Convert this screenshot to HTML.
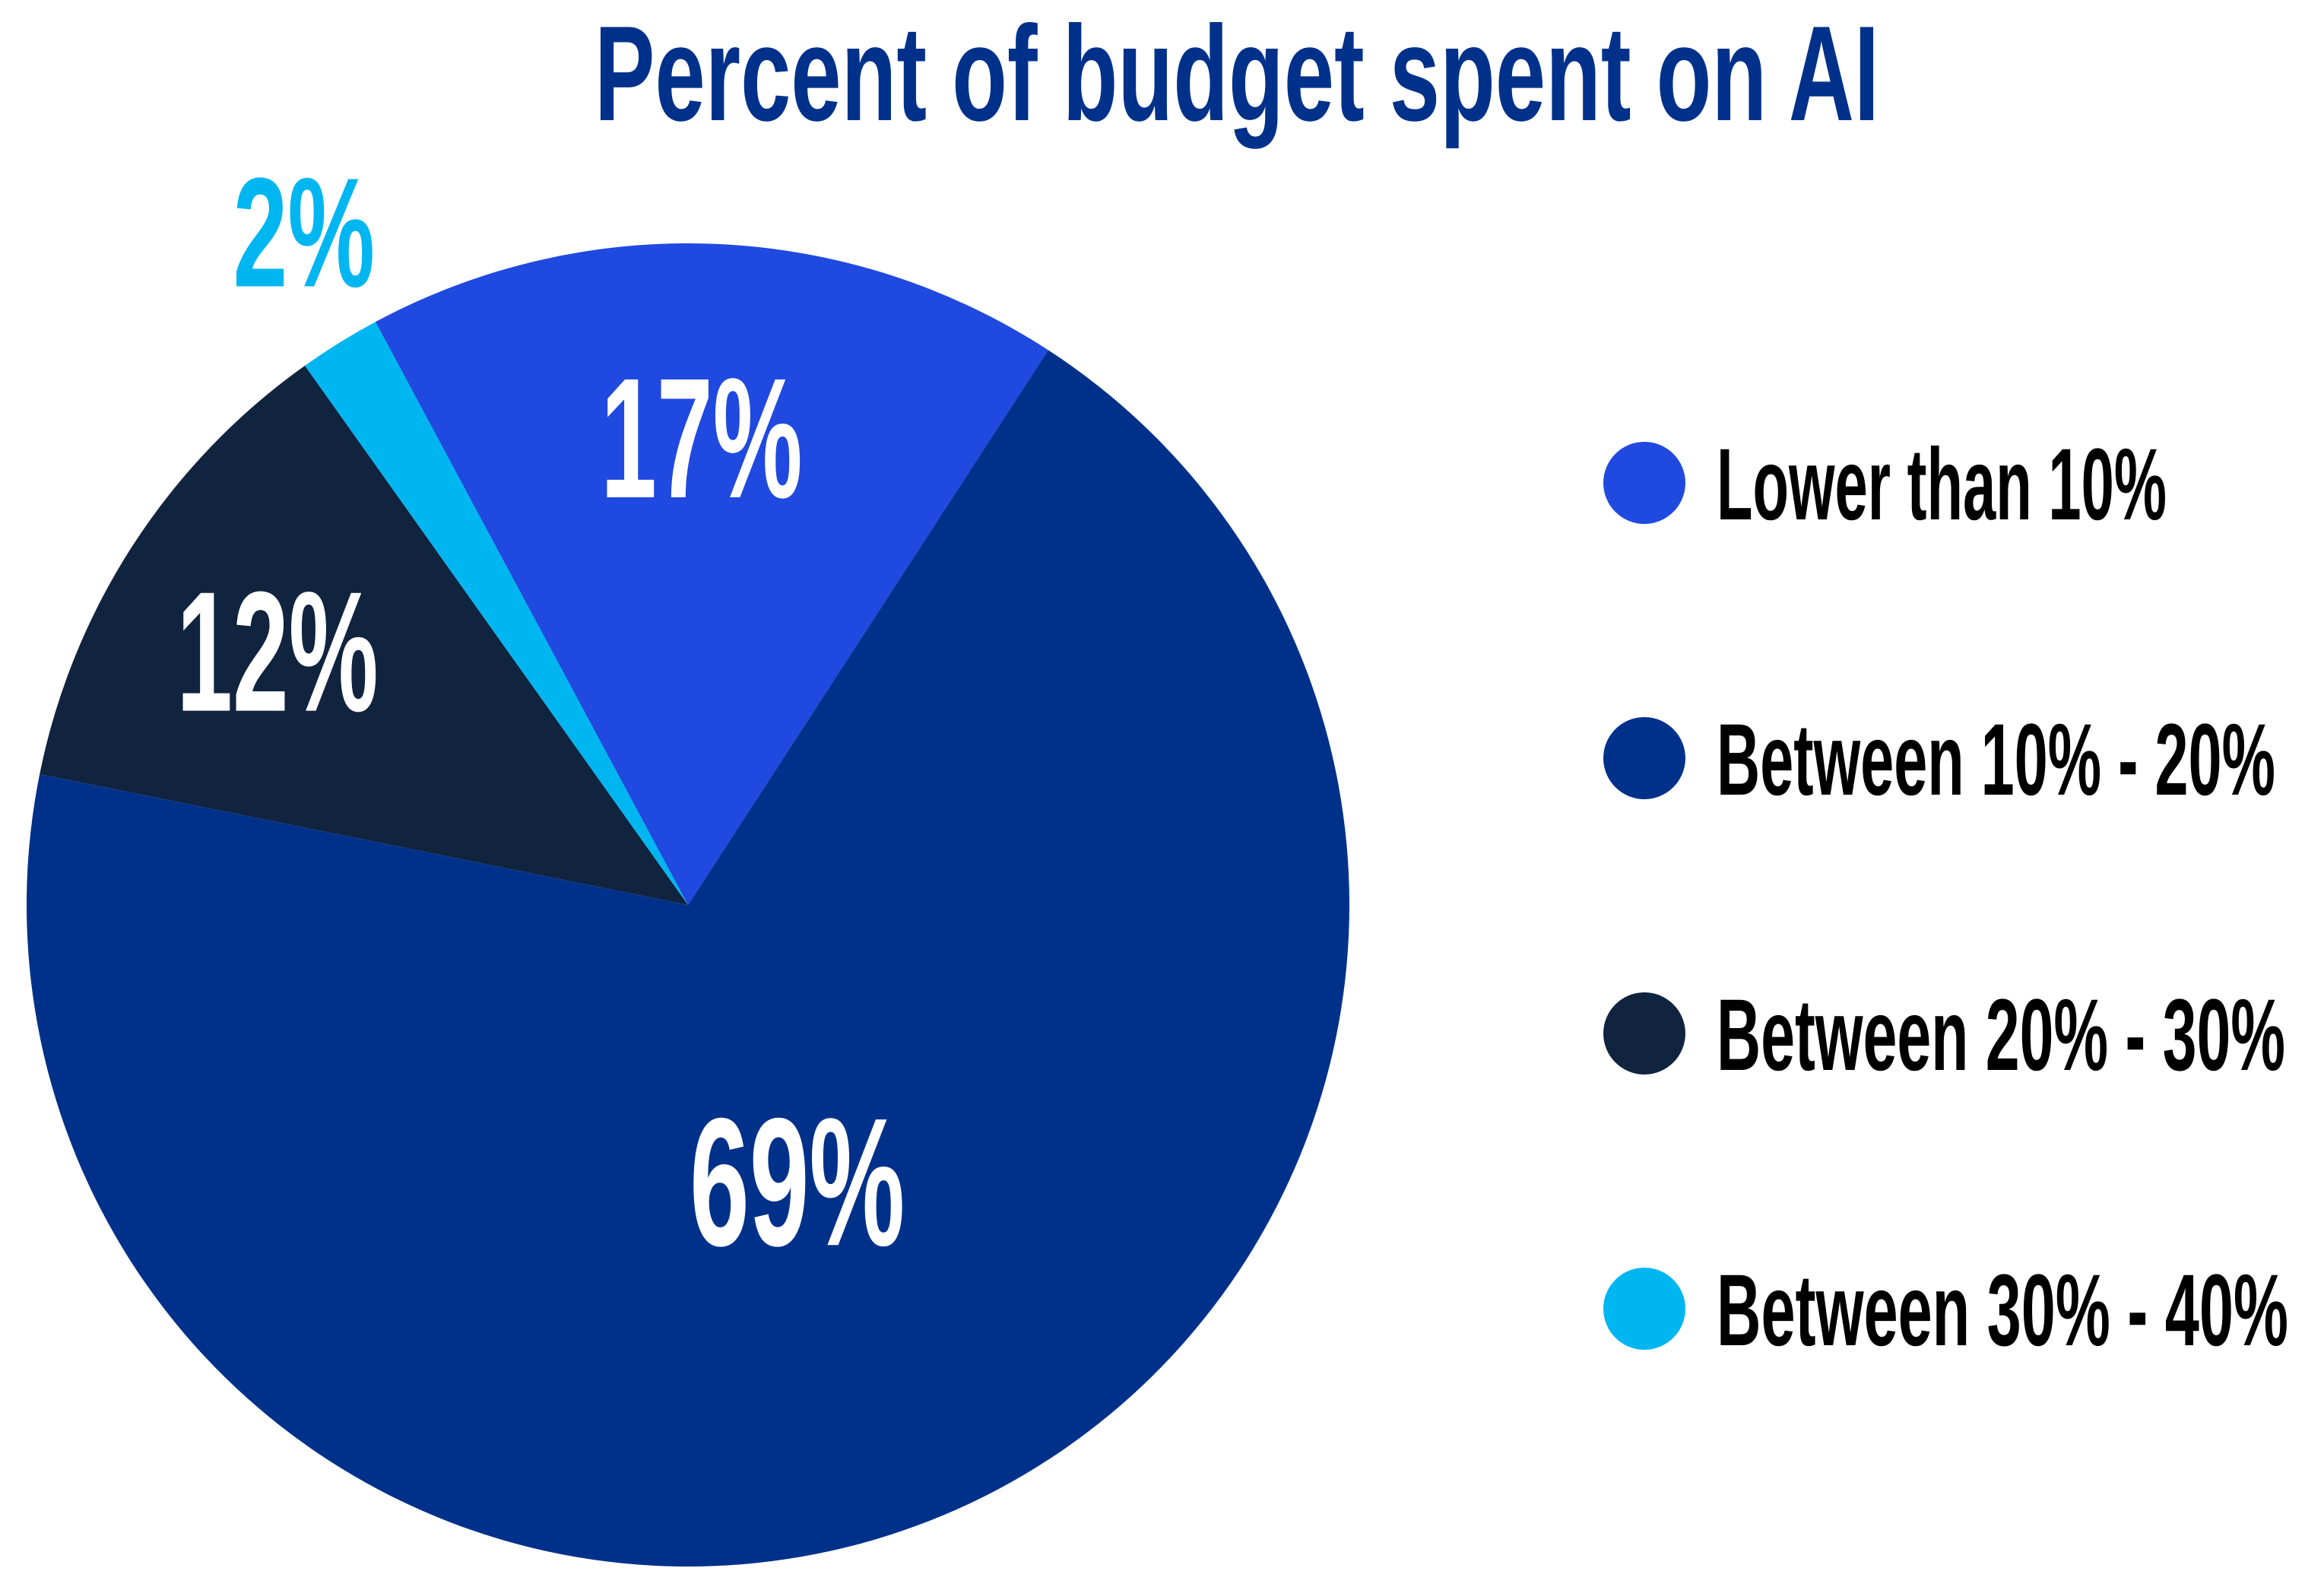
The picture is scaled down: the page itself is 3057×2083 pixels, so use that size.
<!DOCTYPE html>
<html><head><meta charset="utf-8"><style>
html,body{margin:0;padding:0;background:#fff;}
svg{display:block;}
text{font-family:"Liberation Sans",sans-serif;font-weight:bold;}
</style></head><body>
<svg id="chart" width="3057" height="2083" viewBox="0 0 3057 2083" xmlns="http://www.w3.org/2000/svg">
<text x="1627" y="158" text-anchor="middle" font-size="178" fill="#00318a" textLength="1690" lengthAdjust="spacingAndGlyphs">Percent of budget spent on AI</text>
<g id="slices"></g>
<g id="labels"></g>
<g id="legend"></g>
</svg>
<script>
const categories=["Between 10% - 20%","Between 20% - 30%","Between 30% - 40%","Lower than 10%"];
const values=[69,12,2,17];
const valueLabels=["69%","12%","2%","17%"];
const legendOrder=["Lower than 10%","Between 10% - 20%","Between 20% - 30%","Between 30% - 40%"];
const colors={"Lower than 10%":"#2049e0","Between 10% - 20%":"#00318a","Between 20% - 30%":"#10233f","Between 30% - 40%":"#00b6f1"};
const cx=905,cy=1190,r=870,startDeg=33;
const ns="http://www.w3.org/2000/svg";
const total=values.reduce((a,b)=>a+b,0);
function pt(deg,rad){const a=deg*Math.PI/180;return [cx+rad*Math.sin(a),cy-rad*Math.cos(a)];}
let ang=startDeg;
const sg=document.getElementById('slices'),lg=document.getElementById('labels');
values.forEach((v,i)=>{
  const sweep=v/total*360,a0=ang,a1=ang+sweep;ang=a1;
  const p0=pt(a0,r),p1=pt(a1,r);
  const path=document.createElementNS(ns,'path');
  path.setAttribute('d',`M${cx},${cy}L${p0[0]},${p0[1]}A${r},${r} 0 ${sweep>180?1:0} 1 ${p1[0]},${p1[1]}Z`);
  path.setAttribute('fill',colors[categories[i]]);
  
  
  sg.appendChild(path);
  const mid=(a0+a1)/2;
  let lp,fill='#fff',fs=225,dx=-8;
  if(v<5){lp=pt(mid,r*1.2);fill='#00b6f1';fs=205;dx=45;}
  else if(v>50){lp=pt(mid,r*0.45);fs=240;}
  else if(v<15){lp=pt(mid,r*0.71);dx=-22;}
  else lp=pt(mid,r*0.71);
  const digits=valueLabels[i].length-1;
  const t=document.createElementNS(ns,'text');
  t.setAttribute('x',lp[0]+dx);t.setAttribute('y',lp[1]+fs*0.36);
  t.setAttribute('text-anchor','middle');t.setAttribute('font-size',fs);t.setAttribute('fill',fill);
  t.setAttribute('textLength',fs*(0.27*digits+0.64));
  t.setAttribute('lengthAdjust','spacingAndGlyphs');
  t.textContent=valueLabels[i];
  
  
  lg.appendChild(t);
});
const leg=document.getElementById('legend');
const legendWidths=[592,735,748,752];
legendOrder.forEach((c,i)=>{
  const y=635+i*362;
  const g=document.createElementNS(ns,'g');
  
  
  const ci=document.createElementNS(ns,'circle');
  ci.setAttribute('cx',2163);ci.setAttribute('cy',y);ci.setAttribute('r',54);ci.setAttribute('fill',colors[c]);
  
  
  const t=document.createElementNS(ns,'text');
  t.setAttribute('x',2258);t.setAttribute('y',y+48);t.setAttribute('font-size',134);t.setAttribute('fill','#000');
  t.setAttribute('textLength',legendWidths[i]);t.setAttribute('lengthAdjust','spacingAndGlyphs');
  t.textContent=c;
  
  
  g.appendChild(ci);g.appendChild(t);leg.appendChild(g);
});
</script>
</body></html>
